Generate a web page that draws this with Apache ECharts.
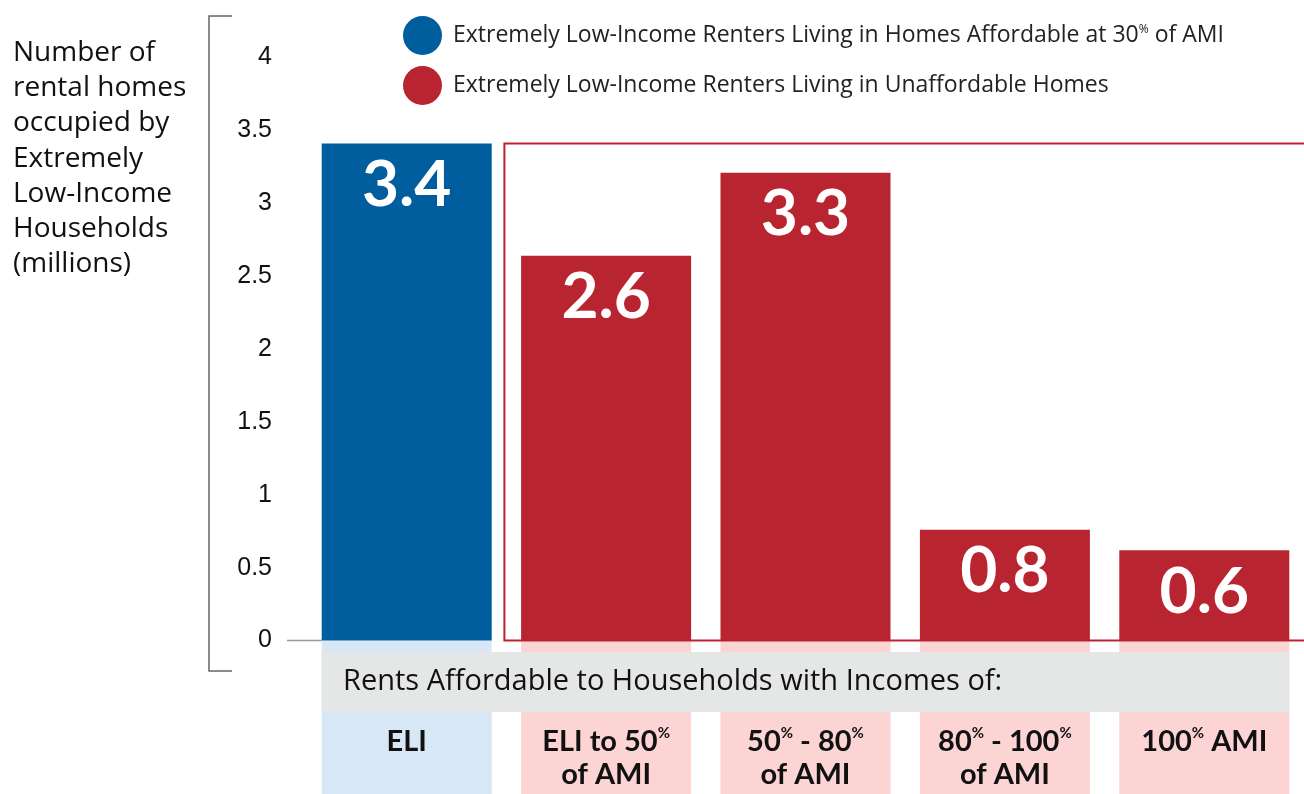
<!DOCTYPE html>
<html>
<head>
<meta charset="utf-8">
<title>ELI renters</title>
<script src="https://cdn.jsdelivr.net/npm/echarts@6/dist/echarts.min.js"></script>
<style>
    html, body { margin: 0; padding: 0; background: #fff; }
    #main { width: 1304px; height: 794px; }
</style>
</head>
<body>
<div id="main"></div>
<script>
// categories (rent levels) and values in millions
var categories = ['ELI', 'ELI to 50%\nof AMI', '50% - 80%\nof AMI', '80% - 100%\nof AMI', '100% AMI'];
var affordableValues = [3.41, '-', '-', '-', '-'];
var unaffordableValues = ['-', 2.64, 3.21, 0.76, 0.62];
var barLabels = ['3.4', '2.6', '3.3', '0.8', '0.6'];
var seriesNames = [
    'Extremely Low-Income Renters Living in Homes Affordable at 30% of AMI',
    'Extremely Low-Income Renters Living in Unaffordable Homes'
];
var boxColors = ['#d8e7f5', '#fbd4d3', '#fbd4d3', '#fbd4d3', '#fbd4d3'];

var BLUE = '#005e9f';
var RED = '#b8242f';
var FONT = 'Lato';
var TEXT_FONT = 'Open Sans';

(function () {
    var myechart = echarts.init(document.getElementById('main'));

    // turn "50%" into rich text with a small raised %
    function supText(str, mainStyle) {
        return str.split('\n').map(function (line) {
            var parts = line.split('%');
            var out = '';
            for (var i = 0; i < parts.length; i++) {
                if (parts[i] !== '') out += '{' + mainStyle + '|' + parts[i] + '}';
                if (i < parts.length - 1) out += '{' + mainStyle + 's|%}';
            }
            return out;
        }).join('\n');
    }

    function barLabel() {
        return {
            show: true,
            position: 'insideTop',
            distance: 10,
            color: '#fff',
            fontFamily: FONT,
            fontWeight: 'bold',
            fontSize: 64,
            formatter: function (p) { return barLabels[p.dataIndex]; }
        };
    }

    var options = {
        animation: false,
        title: {
            text: 'Number of\nrental homes\noccupied by\nExtremely\nLow-Income\nHouseholds\n(millions)',
            left: 13,
            top: 35,
            padding: 0,
            textStyle: { fontFamily: TEXT_FONT, fontWeight: 'normal', fontSize: 28, lineHeight: 35.3, color: '#111' }
        },
        legend: {
            orient: 'vertical',
            left: 398,
            top: 11,
            itemWidth: 39,
            itemHeight: 39,
            itemGap: 11,
            icon: 'circle',
            data: seriesNames,
            formatter: function (name) { return supText(name, 'a'); },
            textStyle: {
                padding: [0, 0, 0, 6],
                rich: {
                    a: { fontFamily: TEXT_FONT, fontSize: 23, color: '#222' },
                    as: { fontFamily: TEXT_FONT, fontSize: 12, color: '#222', verticalAlign: 'top', lineHeight: 15 }
                }
            }
        },
        grid: { left: 307, width: 1005, top: 57.5, bottom: 153.5, containLabel: false },
        xAxis: {
            type: 'category',
            data: categories,
            z: 10,
            axisLine: { show: false },
            axisTick: { show: false },
            axisLabel: {
                interval: 0,
                margin: 85,
                verticalAlign: 'top',
                formatter: function (v) { return supText(v, 'b'); },
                rich: {
                    b: { fontFamily: FONT, fontWeight: 'bold', fontSize: 29, lineHeight: 33, color: '#111' },
                    bs: { fontFamily: FONT, fontWeight: 'bold', fontSize: 15, lineHeight: 17, color: '#111', verticalAlign: 'top' }
                }
            }
        },
        yAxis: {
            type: 'value',
            min: 0,
            max: 4,
            interval: 0.5,
            axisLine: { show: false },
            axisTick: { show: false },
            splitLine: { show: false },
            axisLabel: { margin: 35, fontFamily: 'Liberation Sans', fontSize: 25, color: '#111' }
        },
        series: [
            {
                name: seriesNames[0],
                type: 'bar',
                data: affordableValues,
                barWidth: 170,
                barGap: '-100%',
                itemStyle: { color: BLUE },
                label: barLabel()
            },
            {
                name: seriesNames[1],
                type: 'bar',
                data: unaffordableValues,
                barWidth: 170,
                barGap: '-100%',
                itemStyle: { color: RED },
                label: barLabel()
            }
        ]
    };
    myechart.setOption(options);

    // decorations placed through the axes
    var graphics = [];
    var zeroY = myechart.convertToPixel({ gridIndex: 0 }, [0, 0])[1];
    var half = 85;
    var centers = [];
    for (var i = 0; i < categories.length; i++) {
        centers.push(myechart.convertToPixel({ gridIndex: 0 }, [i, 0])[0]);
    }
    for (var i = 0; i < categories.length; i++) {
        graphics.push({
            type: 'rect', z: 1,
            shape: { x: centers[i] - half, y: zeroY, width: half * 2, height: 794 - zeroY },
            style: { fill: boxColors[i] }
        });
    }
    // gray band
    graphics.push({
        type: 'rect', z: 2,
        shape: { x: centers[0] - half, y: 652, width: centers[4] + half - (centers[0] - half), height: 60 },
        style: { fill: '#e5e6e6' }
    });
    graphics.push({
        type: 'text', z: 3, x: 343, y: 682,
        style: { text: 'Rents Affordable to Households with Incomes of:', fontFamily: TEXT_FONT, fontSize: 29, fill: '#111', verticalAlign: 'middle' }
    });
    // red outline round the unaffordable bars
    var boxTop = myechart.convertToPixel({ gridIndex: 0 }, [0, affordableValues[0]])[1];
    var boxLeft = (centers[0] + centers[1]) / 2 - 2;
    graphics.push({
        type: 'rect', z: 1,
        shape: { x: boxLeft, y: boxTop, width: 1320 - boxLeft, height: zeroY - boxTop },
        style: { fill: 'none', stroke: RED, lineWidth: 2 }
    });
    // bracket on the left and short baseline
    graphics.push({
        type: 'polyline', z: 1,
        shape: { points: [[232, 16], [209, 16], [209, 671], [232, 671]] },
        style: { stroke: '#666', lineWidth: 1.5, fill: 'none' }
    });
    graphics.push({
        type: 'line', z: 1,
        shape: { x1: 287, y1: zeroY, x2: centers[0] - half, y2: zeroY },
        style: { stroke: '#999', lineWidth: 1.5 }
    });
    myechart.setOption({ graphic: graphics });
})();
</script>
</body>
</html>
